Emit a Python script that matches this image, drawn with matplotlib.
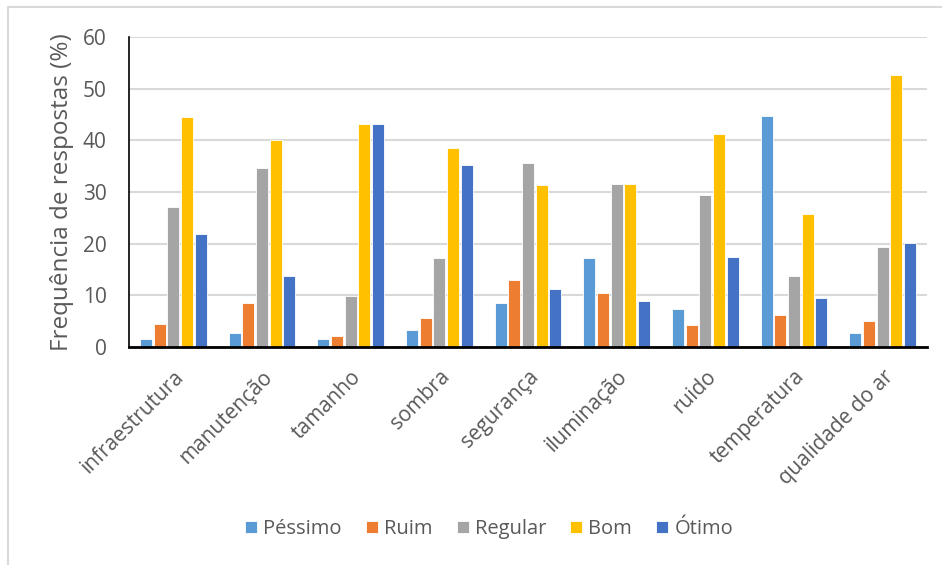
import numpy as np
import matplotlib
matplotlib.use('Agg')
import matplotlib.pyplot as plt
from matplotlib.patches import Rectangle

plt.rcParams['font.family'] = ['Open Sans', 'DejaVu Sans']

# dados
categorias = ['infraestrutura', 'manutenção', 'tamanho', 'sombra', 'segurança',
              'iluminação', 'ruido', 'temperatura', 'qualidade do ar']
series = ['Péssimo', 'Ruim', 'Regular', 'Bom', 'Ótimo']
pessimo = [1.6, 2.8, 1.5, 3.2, 8.6, 17.2, 7.3, 44.8, 2.8]
ruim = [4.4, 8.6, 2.1, 5.7, 13.0, 10.5, 4.2, 6.1, 5.0]
regular = [27.1, 34.6, 9.8, 17.2, 35.6, 31.5, 29.5, 13.7, 19.3]
bom = [44.6, 40.0, 43.2, 38.5, 31.4, 31.5, 41.2, 25.7, 52.6]
otimo = [21.9, 13.8, 43.1, 35.3, 11.3, 9.0, 17.5, 9.5, 20.2]
cores = ['#5B9BD5', '#ED7D31', '#A5A5A5', '#FFC000', '#4472C4']

valores = [pessimo, ruim, regular, bom, otimo]

fig = plt.figure(figsize=(9.42, 5.65), dpi=100)
ax = fig.add_axes([129 / 942, 1 - 347 / 565, 798 / 942, 310 / 565])

x = np.arange(len(categorias))
passo = 0.154
largura = 0.135
for i, (nome, v, c) in enumerate(zip(series, valores, cores)):
    ax.bar(x + (i - 2) * passo, v, largura, color=c, label=nome,
           edgecolor='white', linewidth=0.6, zorder=3)

ax.set_xlim(-0.5, len(categorias) - 0.5)
ax.set_ylim(0, 60)
ax.set_yticks(range(0, 61, 10))
ax.yaxis.grid(True, color='#D9D9D9', linewidth=1.5, zorder=0)
ax.tick_params(axis='both', length=0, labelsize=15, labelcolor='#595959')
ax.tick_params(axis='y', pad=16)
ax.set_xticks(x)
ax.set_xticklabels(categorias, rotation=45, ha='right', va='top',
                   rotation_mode='anchor')
ax.tick_params(axis='x', pad=14)

for s in ['top', 'right']:
    ax.spines[s].set_visible(False)
ax.spines['left'].set_color('black')
ax.spines['left'].set_linewidth(1.2)
ax.spines['bottom'].set_color('black')
ax.spines['bottom'].set_linewidth(2)
for s in ['left', 'bottom']:
    ax.spines[s].set_zorder(5)

ax.set_ylabel('Frequência de respostas (%)', fontsize=17.5, color='#595959')
ax.yaxis.set_label_coords(-(129 - 74) / 798, 0.5)

fig.legend(loc='center', bbox_to_anchor=(489 / 942, 1 - 529 / 565), ncol=5,
           frameon=False, fontsize=14.5, labelcolor='#595959',
           handlelength=0.6, handleheight=0.6, handletextpad=0.3,
           columnspacing=1.2)

# moldura do gráfico
fig.patches.append(Rectangle((8 / 942, -0.1), 1.2, 1.1 - 7 / 565,
                             transform=fig.transFigure, fill=False,
                             edgecolor='#D9D9D9', linewidth=1.5))

fig.savefig('out.png', dpi=100)
